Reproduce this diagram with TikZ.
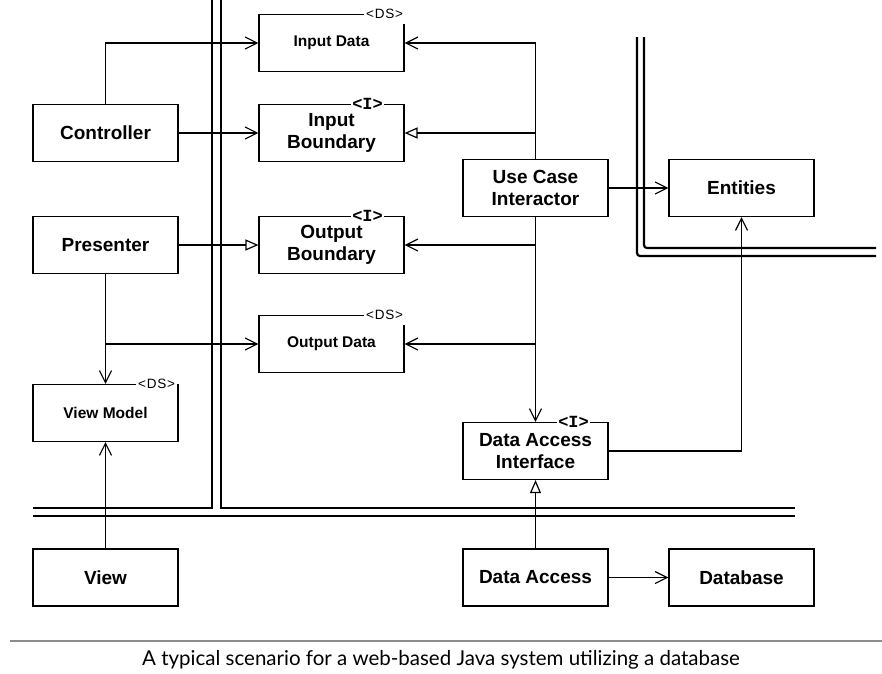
\documentclass[tikz,border=0pt]{standalone}
\usepackage{fontspec}
\setmainfont{Liberation Sans}
\newfontfamily\capfont{Lato}
\newfontfamily\stereofont{Liberation Mono}
\usetikzlibrary{arrows.meta}

\begin{document}
\begin{tikzpicture}[x=1pt, y=-1pt,
  box/.style={draw, line width=1.1pt, minimum width=145pt, minimum height=57pt, align=center, inner sep=2pt, font=\bfseries\fontsize{19}{22}\selectfont},
  smallbox/.style={box, font=\bfseries\fontsize{15.5}{19}\selectfont},
  ds/.style={fill=white, inner xsep=2pt, inner ysep=5pt, font=\addfontfeature{LetterSpace=6}\fontsize{13.5}{13.5}\selectfont},
  iface/.style={fill=white, inner xsep=1pt, inner ysep=1pt, font=\stereofont\bfseries\fontsize{17}{17}\selectfont},
  wall/.style={line width=2.2pt},
  uses/.style={line width=1.2pt, -{Straight Barb[length=12pt, width=12pt, line width=1.2pt]}},
  impl/.style={line width=1.2pt, -{Triangle[open, length=13pt, width=11pt, line width=1.2pt, fill=white]}}]
\useasboundingbox (0,0) rectangle (882,673);
% Walls
\draw[wall] (212,0) -- (212,508) -- (33,508);
\draw[wall] (221,0) -- (221,508) -- (795,508);
\draw[wall] (33,516) -- (795,516);
\draw[wall, rounded corners=3pt] (644,37) -- (644,248) -- (876,248);
\draw[wall, rounded corners=3pt] (637,37) -- (637,256) -- (876,256);
% Boxes
\node[box] (ctrl) at (105.5,133) {Controller};
\node[box] (pres) at (105.5,245) {Presenter};
\node[smallbox] (vm) at (105.5,413) {View Model};
\node[box] (view) at (105.5,577.5) {View};
\node[smallbox] (indata) at (331.5,43) {Input Data};
\node[box] (inbound) at (331.5,133) {Input\\Boundary};
\node[box] (outbound) at (331.5,245) {Output\\Boundary};
\node[smallbox] (outdata) at (331.5,344) {Output Data};
\node[box] (uci) at (535.5,188) {Use Case\\Interactor};
\node[box] (dai) at (535.5,451) {Data Access\\Interface};
\node[box] (da) at (535.5,577.5) {Data Access};
\node[box] (ent) at (741.5,188) {Entities};
\node[box] (db) at (741.5,577.5) {Database};
% Stereotypes
\node[ds] (indata-s) at ([xshift=-20pt]indata.north east) {<DS>};
\node[ds] (outdata-s) at ([xshift=-20pt]outdata.north east) {<DS>};
\node[ds] (vm-s) at ([xshift=-22pt]vm.north east) {<DS>};
\node[iface] (inbound-s) at ([xshift=-37pt]inbound.north east) {<I>};
\node[iface] (outbound-s) at ([xshift=-37pt]outbound.north east) {<I>};
\node[iface] (dai-s) at ([xshift=-35pt]dai.north east) {<I>};
% Arrows
\draw[uses] (ctrl.north) |- (indata.west);
\draw[uses] (ctrl) -- (inbound);
\draw[uses] (uci.north) |- (indata.east);
\draw[impl] (uci.north) |- (inbound.east);
\draw[uses] (uci.south) |- (outbound.east);
\draw[uses] (uci.south) |- (outdata.east);
\draw[uses] (uci.south) -- (dai.north);
\draw[uses] (uci) -- (ent);
\draw[impl] (pres) -- (outbound);
\draw[uses] (pres.south) -- (vm.north);
\draw[uses] (pres.south) |- (outdata.west);
\draw[uses] (view) -- (vm);
\draw[impl] (da) -- (dai);
\draw[uses] (da) -- (db);
\draw[uses] (dai.east) -| (ent.south);
% Caption
\draw[line width=1.2pt, black!45] (10,641) -- (882,641);
\node[font=\capfont\fontsize{20.5}{24}\selectfont] (caption) at (441,660) {A typical scenario for a web-based Java system utilizing a database};
\end{tikzpicture}
\end{document}
